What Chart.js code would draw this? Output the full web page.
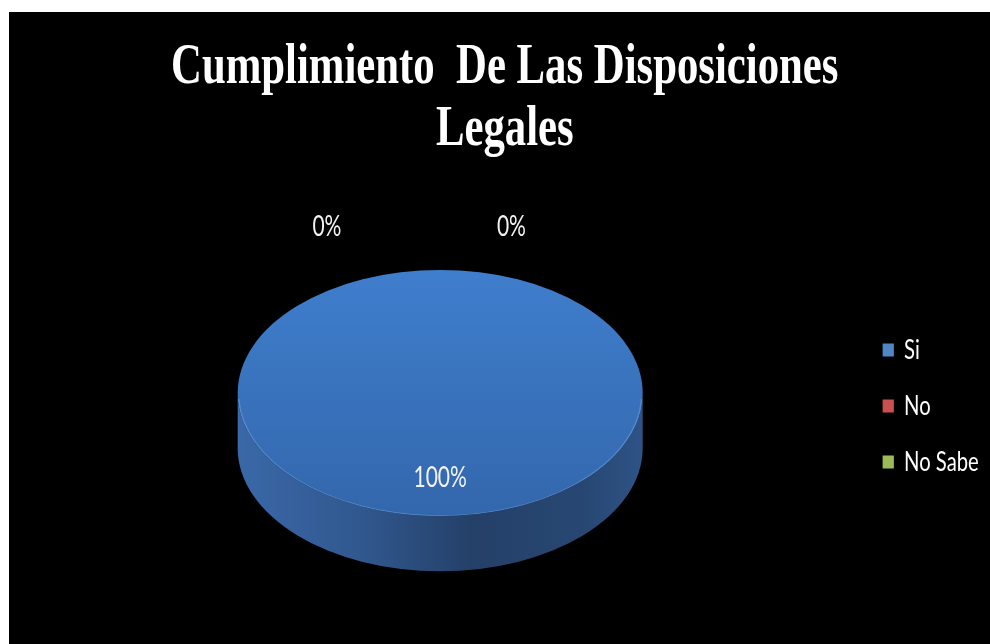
<!DOCTYPE html>
<html>
<head>
<meta charset="utf-8">
<script src="https://cdn.jsdelivr.net/npm/chart.js@4.4.1/dist/chart.umd.min.js"></script>
<style>
  html, body { margin: 0; padding: 0; background: #fff; overflow: hidden; width: 990px; height: 644px; }
  #chartCanvas { position: absolute; left: 9px; top: 12px; }
</style>
</head>
<body>
<canvas id="chartCanvas" width="1308" height="632"></canvas>
<script>
const titleLines = ["Cumplimiento  De Las Disposiciones", "Legales"];
const categories = ["Si", "No", "No Sabe"];
const percentages = [100, 0, 0];

// colours per category: legend swatch, top face (light, dark), side wall
const legendColors = ["#4f86c6", "#c9504e", "#9bbb59"];
const faceColors = [["#3f7ecd", "#3367ac"], ["#cc5250", "#a23f3d"], ["#a2c45f", "#7d9a45"]];
const sideColors = ["#3a68a8", "#9c3b39", "#77923f"];

// everything is laid out wide, then squeezed sideways when drawn
const squeezeX = 0.75;
const tilt = 0.456;     // vertical squash of the pie's top face
const depth = 121;      // pie thickness before the squash
const pieTop = 381;     // where the centre of the top face ends up
const zeroLabelShift = [-151, 95];

function shade(hex, f) {
    const n = parseInt(hex.slice(1), 16);
    const r = Math.round(((n >> 16) & 255) * f);
    const g = Math.round(((n >> 8) & 255) * f);
    const b = Math.round((n & 255) * f);
    return `rgb(${r},${g},${b})`;
}

function sideFill(ctx, cx, r, i) {
    const g = ctx.createLinearGradient(cx - r, 0, cx + r, 0);
    const base = sideColors[i];
    g.addColorStop(0, shade(base, 1.0));
    g.addColorStop(0.3, shade(base, 0.85));
    g.addColorStop(0.58, shade(base, 0.62));
    g.addColorStop(0.85, shade(base, 0.68));
    g.addColorStop(1, shade(base, 0.8));
    return g;
}

const pie3d = {
    id: "pie3d",
    beforeDraw(chart) {
        const ctx = chart.ctx;
        ctx.save();
        ctx.fillStyle = "#000";
        ctx.fillRect(0, 0, chart.width, chart.height);
        ctx.scale(squeezeX, 1);
        ctx.fillStyle = "#fff";
        ctx.font = 'bold 57px "Liberation Serif"';
        ctx.textAlign = "center";
        ctx.textBaseline = "alphabetic";
        titleLines.forEach((t, i) => ctx.fillText(t, 661, 71 + i * 62));
    },
    beforeDatasetsDraw(chart) {
        const ctx = chart.ctx;
        const arcs = chart.getDatasetMeta(0).data;
        const { x: cx, y: cy, outerRadius: r } = arcs[0];
        ctx.save();
        ctx.translate(0, pieTop);
        ctx.scale(1, tilt);
        ctx.translate(0, -cy);
        // side wall, only the front half is visible
        arcs.forEach((el, i) => {
            for (const n of [-1, 0, 1]) {
                const a0 = Math.max(el.startAngle, n * 2 * Math.PI);
                const a1 = Math.min(el.endAngle, n * 2 * Math.PI + Math.PI);
                if (a1 - a0 < 1e-6) continue;
                ctx.beginPath();
                ctx.arc(cx, cy + depth, r, a0, a1);
                ctx.arc(cx, cy, r, a1, a0, true);
                ctx.closePath();
                ctx.fillStyle = sideFill(ctx, cx, r, i);
                ctx.fill();
            }
        });
    },
    afterDatasetsDraw(chart) {
        const ctx = chart.ctx;
        const arcs = chart.getDatasetMeta(0).data;
        const { x: cx, y: cy, outerRadius: r } = arcs[0];
        // soft rim where the top meets the wall
        ctx.beginPath();
        ctx.arc(cx, cy, r - 1, 0.05, Math.PI - 0.05);
        ctx.strokeStyle = "rgba(120,170,230,0.45)";
        ctx.lineWidth = 2;
        ctx.stroke();
        ctx.restore();

        ctx.save();
        ctx.font = "28px Lato";
        ctx.fillStyle = "#f2f2f2";
        ctx.textAlign = "center";
        ctx.textBaseline = "middle";
        let z = 0;
        arcs.forEach((el, i) => {
            const v = percentages[i];
            const mid = (el.startAngle + el.endAngle) / 2;
            let x, y;
            if (v > 0) {
                x = cx + Math.cos(mid) * r * 0.69;
                y = pieTop + Math.sin(mid) * r * 0.69 * tilt;
            } else {
                x = cx + Math.cos(mid) * r + zeroLabelShift[z++];
                y = pieTop + Math.sin(mid) * r * tilt - 43;
            }
            ctx.fillText(v + "%", x, y);
        });
        ctx.restore();
    },
    afterDraw(chart) {
        chart.ctx.restore();
    }
};

new Chart(document.getElementById("chartCanvas"), {
    type: "pie",
    data: {
        labels: categories,
        datasets: [{
            data: percentages,
            radius: 270,
            clip: false,
            borderWidth: 0,
            backgroundColor: (c) => {
                const area = c.chart.chartArea;
                const pair = faceColors[c.dataIndex];
                if (!area) return pair[0];
                const cy = (area.top + area.bottom) / 2;
                const g = c.chart.ctx.createLinearGradient(0, cy - 270, 0, cy + 270);
                g.addColorStop(0, pair[0]);
                g.addColorStop(1, pair[1]);
                return g;
            }
        }]
    },
    options: {
        responsive: false,
        devicePixelRatio: 1,
        animation: false,
        events: [],
        layout: { padding: { top: 156, left: 14, right: 5, bottom: 0 } },
        plugins: {
            title: { display: false },
            tooltip: { enabled: false },
            legend: {
                position: "right",
                labels: {
                    color: "#ffffff",
                    font: { family: "Lato", size: 27 },
                    boxWidth: 15,
                    boxHeight: 13,
                    padding: 29,
                    generateLabels: () => categories.map((c, i) => ({
                        text: c,
                        fillStyle: legendColors[i],
                        strokeStyle: legendColors[i],
                        lineWidth: 0,
                        fontColor: "#ffffff",
                        hidden: false,
                        index: i
                    }))
                }
            }
        }
    },
    plugins: [pie3d]
});
</script>
</body>
</html>
